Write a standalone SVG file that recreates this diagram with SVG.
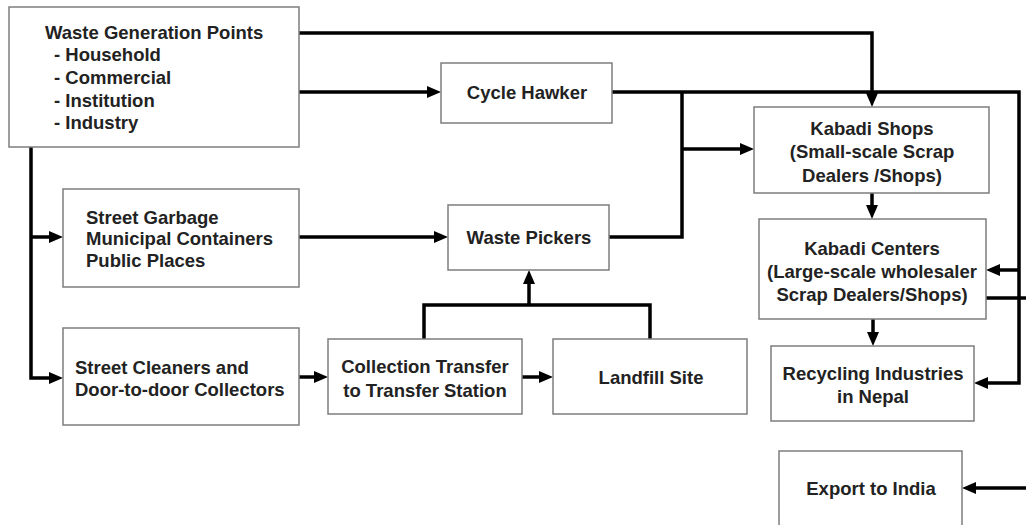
<svg xmlns="http://www.w3.org/2000/svg" width="1026" height="525" viewBox="0 0 1026 525">
<defs>
<style>
.box{fill:#fff;stroke:#7d7d7d;stroke-width:1.5}
.t{font-family:"Liberation Sans",Arial,sans-serif;font-weight:bold;font-size:18.5px;fill:#222}
.m{text-anchor:middle}
.c{fill:none;stroke:#000;stroke-width:3.5}
</style>
<marker id="ah" markerUnits="userSpaceOnUse" markerWidth="14" markerHeight="12" refX="6" refY="6" orient="auto" viewBox="0 0 14 12">
<path d="M0,0 L14,6 L0,12 z" fill="#000"/>
</marker>
</defs>
<rect width="1026" height="525" fill="#fff"/>
<g id="connectors">
<path class="c" d="M299,33 H872 V99" marker-end="url(#ah)"/>
<path class="c" d="M299,92 H433" marker-end="url(#ah)"/>
<path class="c" d="M612,92 H1019 V383 H982" marker-end="url(#ah)"/>
<path class="c" d="M1019,270 H994" marker-end="url(#ah)"/>
<path class="c" d="M609,237 H682 V92"/>
<path class="c" d="M682,149 H746" marker-end="url(#ah)"/>
<path class="c" d="M1030,488 H970" marker-end="url(#ah)"/>
<path class="c" d="M986,298 H1030"/>
<path class="c" d="M31,147 V378 H55" marker-end="url(#ah)"/>
<path class="c" d="M31,237 H55" marker-end="url(#ah)"/>
<path class="c" d="M299,237 H440" marker-end="url(#ah)"/>
<path class="c" d="M299,377 H320" marker-end="url(#ah)"/>
<path class="c" d="M522,377 H545" marker-end="url(#ah)"/>
<path class="c" d="M424,339 V305 H650 V339"/>
<path class="c" d="M529,305 V278" marker-end="url(#ah)"/>
<path class="c" d="M872,193 V211" marker-end="url(#ah)"/>
<path class="c" d="M873,319 V338" marker-end="url(#ah)"/>
</g>
<g id="waste-generation">
<rect class="box" x="9" y="7" width="290" height="140"/>
<text class="t" x="45" y="39">Waste Generation Points</text>
<text class="t" x="54" y="61">- Household</text>
<text class="t" x="54" y="83.5">- Commercial</text>
<text class="t" x="54" y="106.5">- Institution</text>
<text class="t" x="54" y="129">- Industry</text>
</g>
<g id="cycle-hawker">
<rect class="box" x="441" y="63" width="171" height="60"/>
<text class="t m" x="527" y="99">Cycle Hawker</text>
</g>
<g id="street-garbage">
<rect class="box" x="63" y="189" width="236" height="98"/>
<text class="t" x="86" y="223.5">Street Garbage</text>
<text class="t" x="86" y="245">Municipal Containers</text>
<text class="t" x="86" y="267">Public Places</text>
</g>
<g id="waste-pickers">
<rect class="box" x="448" y="205" width="161" height="65"/>
<text class="t m" x="529" y="244">Waste Pickers</text>
</g>
<g id="street-cleaners">
<rect class="box" x="63" y="328" width="236" height="97"/>
<text class="t" x="75" y="374">Street Cleaners and</text>
<text class="t" x="75" y="395.5">Door-to-door Collectors</text>
</g>
<g id="collection-transfer">
<rect class="box" x="328" y="339" width="194" height="75"/>
<text class="t m" x="425" y="372.5">Collection Transfer</text>
<text class="t m" x="425" y="396.5">to Transfer Station</text>
</g>
<g id="landfill">
<rect class="box" x="553" y="339" width="194" height="75"/>
<text class="t m" x="651" y="383.5">Landfill Site</text>
</g>
<g id="kabadi-shops">
<rect class="box" x="754" y="107" width="235" height="86"/>
<text class="t m" x="872" y="135">Kabadi Shops</text>
<text class="t m" x="872" y="158">(Small-scale Scrap</text>
<text class="t m" x="872" y="181.5">Dealers /Shops)</text>
</g>
<g id="kabadi-centers">
<rect class="box" x="759" y="219" width="227" height="100"/>
<text class="t m" x="872" y="255">Kabadi Centers</text>
<text class="t m" x="872" y="278">(Large-scale wholesaler</text>
<text class="t m" x="872" y="300.5">Scrap Dealers/Shops)</text>
</g>
<g id="recycling">
<rect class="box" x="771" y="346" width="203" height="75"/>
<text class="t m" x="873" y="380">Recycling Industries</text>
<text class="t m" x="873" y="403">in Nepal</text>
</g>
<g id="export">
<rect class="box" x="779" y="451" width="183" height="80"/>
<text class="t m" x="871" y="495">Export to India</text>
</g>
</svg>
